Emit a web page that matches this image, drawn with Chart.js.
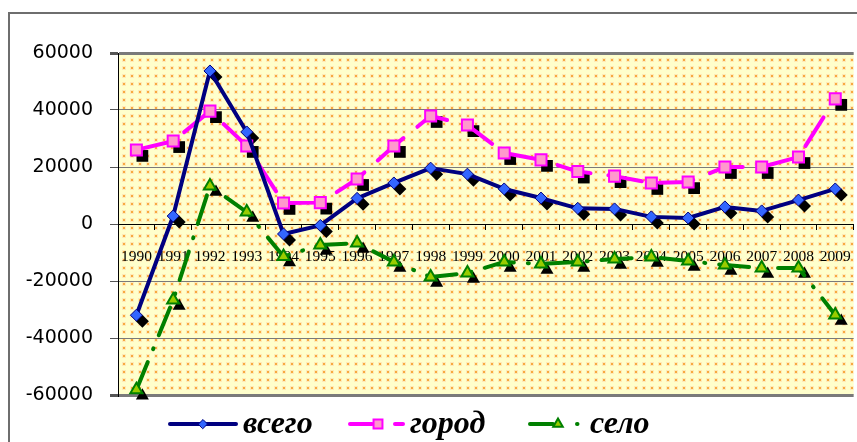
<!DOCTYPE html>
<html>
<head>
<meta charset="utf-8">
<script src="https://cdn.jsdelivr.net/npm/chart.js@4.4.0/dist/chart.umd.min.js"></script>
<style>
  html, body { margin: 0; padding: 0; background: #fff; overflow: hidden; }
  #wrap { position: relative; width: 870px; height: 442px; }
</style>
</head>
<body>
<div id="wrap"><canvas id="chart"></canvas></div>
<script>
// years on the category axis
const years = ['1990','1991','1992','1993','1994','1995','1996','1997','1998','1999',
               '2000','2001','2002','2003','2004','2005','2006','2007','2008','2009'];

// series values
const total = [-32000, 2800, 53700, 32300, -3500, -500, 9000, 14400, 19600, 17500,
               12300, 9100, 5500, 5300, 2500, 2100, 6000, 4600, 8400, 12300];
const city  = [26000, 29100, 39600, 27400, 7400, 7500, 15800, 27400, 37900, 34700,
               24900, 22500, 18400, 16800, 14400, 14700, 20000, 20000, 23500, 43900];
const rural = [-58200, -26700, 13300, 4200, -11400, -7400, -6700, -13300, -18600, -17200,
               -13300, -14000, -13300, -12300, -11600, -13000, -14400, -15400, -15400, -31900];

const seriesNames = ['всего', 'город', 'село'];

// y axis range
const yMin = -60000, yMax = 60000, yStep = 20000;

// dotted yellow background like the Excel fill
function makePattern(ctx) {
    const c = document.createElement('canvas');
    c.width = 8; c.height = 8;
    const p = c.getContext('2d');
    p.fillStyle = '#ffffcc';
    p.fillRect(0, 0, 8, 8);
    p.fillStyle = '#feeab8';
    p.fillRect(2, 2, 4, 4);
    p.fillStyle = '#f8aa40';
    p.fillRect(3, 3, 2, 2);
    return ctx.createPattern(c, 'repeat');
}

// frame + plot background
const backgroundPlugin = {
    id: 'bg',
    beforeDraw(chart) {
        const ctx = chart.ctx;
        const a = chart.chartArea;
        ctx.save();
        ctx.fillStyle = '#fff';
        ctx.fillRect(0, 0, chart.width, chart.height);
        // outer chart border
        ctx.strokeStyle = '#6e6e6e';
        ctx.lineWidth = 2;
        ctx.beginPath();
        ctx.moveTo(9, chart.height + 5);
        ctx.lineTo(9, 13);
        ctx.lineTo(chart.width + 5, 13);
        ctx.stroke();
        ctx.fillStyle = makePattern(ctx);
        ctx.fillRect(a.left, a.top, a.right - a.left, a.bottom - a.top);
        ctx.restore();
    }
};

// black drop shadows under the markers
const shadowPlugin = {
    id: 'shadows',
    beforeDatasetsDraw(chart) {
        const ctx = chart.ctx;
        ctx.save();
        ctx.fillStyle = '#000';
        chart.data.datasets.forEach((ds, i) => {
            const meta = chart.getDatasetMeta(i);
            meta.data.forEach(pt => {
                Chart.helpers.drawPoint(ctx, {
                    pointStyle: ds.pointStyle,
                    radius: ds.pointRadius + 0.5,
                    borderWidth: 0,
                    rotation: 0
                }, pt.x + 6, pt.y + 6);
            });
        });
        ctx.restore();
    }
};

// legend: line sample with marker, then bold italic text
const legendPlugin = {
    id: 'customLegend',
    afterDraw(chart) {
        const ctx = chart.ctx;
        const y = 424;
        const items = [
            { x1: 170, x2: 236, mx: 203, tx: 243, dash: [] },
            { x1: 350, x2: 403, mx: 378, tx: 410, dash: [22, 23, 8, 40] },
            { x1: 530, x2: 580, mx: 558, tx: 590, dash: [23, 24, 0.5, 40] }
        ];
        ctx.save();
        chart.data.datasets.forEach((ds, i) => {
            const it = items[i];
            ctx.strokeStyle = ds.borderColor;
            ctx.lineWidth = 4;
            ctx.lineCap = 'round';
            ctx.setLineDash(it.dash);
            ctx.beginPath();
            ctx.moveTo(it.x1, y);
            ctx.lineTo(it.x2, y);
            ctx.stroke();
            ctx.setLineDash([]);
            ctx.fillStyle = ds.pointBackgroundColor;
            ctx.strokeStyle = ds.pointBorderColor;
            ctx.lineWidth = ds.pointBorderWidth;
            Chart.helpers.drawPoint(ctx, {
                pointStyle: ds.pointStyle,
                radius: ds.pointRadius - 1.5,
                borderWidth: ds.pointBorderWidth,
                rotation: 0
            }, it.mx, y);
            ctx.fillStyle = '#000';
            ctx.font = 'italic bold 32px "Liberation Serif"';
            ctx.textBaseline = 'alphabetic';
            ctx.fillText(seriesNames[i], it.tx, 433);
        });
        ctx.restore();
    }
};

const chart = new Chart(document.getElementById('chart'), {
    type: 'line',
    data: {
        labels: years,
        datasets: [{
            label: seriesNames[0],
            data: total,
            borderColor: '#000080',
            borderWidth: 4,
            pointStyle: 'rectRot',
            pointRadius: 6,
            pointBackgroundColor: '#3366ff',
            pointBorderColor: '#000080',
            pointBorderWidth: 1
        }, {
            label: seriesNames[1],
            data: city,
            borderColor: '#ff00ff',
            borderWidth: 4,
            borderDash: [34, 18],
            pointStyle: 'rect',
            pointRadius: 7.8,
            pointBackgroundColor: '#ff99cc',
            pointBorderColor: '#ff00ff',
            pointBorderWidth: 2
        }, {
            label: seriesNames[2],
            data: rural,
            borderColor: '#008000',
            borderWidth: 4,
            borderDash: [30, 14, 1, 14],
            pointStyle: 'triangle',
            pointRadius: 7,
            pointBackgroundColor: '#99cc00',
            pointBorderColor: '#008000',
            pointBorderWidth: 2
        }]
    },
    options: {
        responsive: true,
        maintainAspectRatio: false,
        animation: false,
        layout: { padding: { left: 26, top: 53, right: 8, bottom: 47 } },
        elements: {
            line: { tension: 0, borderCapStyle: 'round', borderJoinStyle: 'round' }
        },
        plugins: {
            legend: { display: false },
            tooltip: { enabled: false }
        },
        scales: {
            x: {
                position: { y: 0 },
                offset: true,
                grid: {
                    offset: true,
                    drawOnChartArea: false,
                    drawTicks: true,
                    tickLength: 5,
                    tickColor: '#000'
                },
                border: { color: '#000', width: 1 },
                ticks: {
                    autoSkip: false,
                    maxRotation: 0,
                    padding: 19,
                    color: '#000',
                    font: { family: '"Liberation Serif"', size: 15.5 }
                }
            },
            y: {
                min: yMin,
                max: yMax,
                afterFit: scale => { scale.width = 92; },
                grid: {
                    color: ctx => ctx.tick && ctx.tick.value === 0 ? '#000' : '#7a7a7a',
                    lineWidth: ctx => ctx.tick && Math.abs(ctx.tick.value) === yMax ? 3 : 1,
                    tickLength: 8,
                    tickColor: '#555'
                },
                border: { color: '#000', width: 1 },
                ticks: {
                    stepSize: yStep,
                    padding: 17,
                    color: '#000',
                    font: { family: '"DejaVu Sans"', size: 19 },
                    callback: v => String(v)
                }
            }
        }
    },
    plugins: [backgroundPlugin, shadowPlugin, legendPlugin]
});
</script>
</body>
</html>
